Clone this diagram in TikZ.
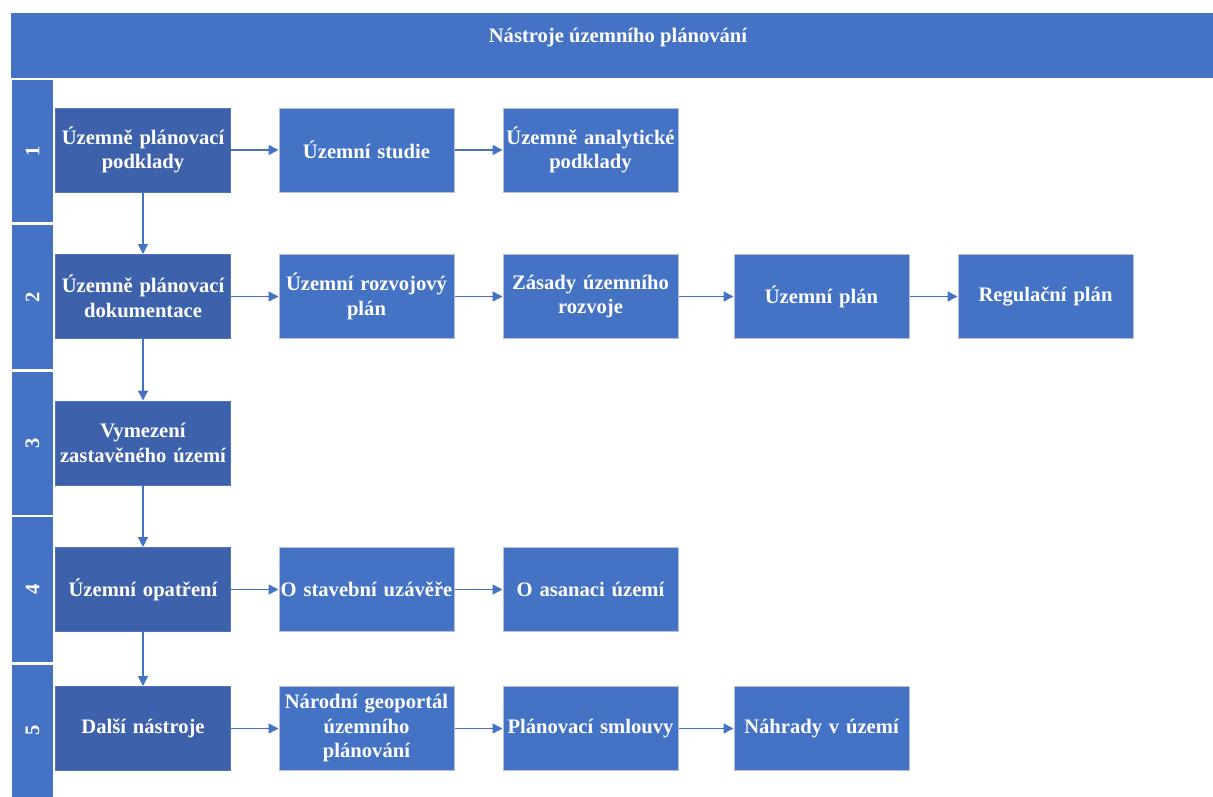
\documentclass[tikz,border=0pt]{standalone}
\usepackage{fontspec}
\setmainfont{Liberation Serif}
\usetikzlibrary{arrows.meta}
\definecolor{mblue}{HTML}{4472C4}
\definecolor{dblue}{HTML}{3D62AB}
\definecolor{dborder}{HTML}{5075BA}
\definecolor{lborder}{HTML}{B4C0D8}
\begin{document}
\begin{tikzpicture}[x=1pt,y=-1pt,
  txt/.style={text=white,font=\fontsize{20.6}{24.5}\selectfont\bfseries},
  lbox/.style={rectangle,fill=mblue,draw=lborder,line width=1pt,minimum width=175pt,minimum height=84pt,
    text width=174pt,align=center,inner sep=0pt,txt},
  dbox/.style={lbox,fill=dblue,draw=dborder},
  lane/.style={rectangle,fill=mblue,draw=white,line width=1.3pt,minimum width=42pt,inner sep=0pt},
  conn/.style={draw=mblue,line width=1.5pt,-{Triangle[length=10pt,width=10pt]}}]
\useasboundingbox (0,0) rectangle (1213,796);
% title
\fill[mblue] (11,13) rectangle (1213,78);
\node[txt] (title) at (618,38) {Nástroje územního plánování};
% lanes
\node[lane,minimum height=144pt] (l1) at (32.5,151) {};
\node[lane,minimum height=146pt] (l2) at (32.5,297) {};
\node[lane,minimum height=145pt] (l3) at (32.5,443.5) {};
\node[lane,minimum height=146pt] (l4) at (32.5,589.5) {};
\node[lane,minimum height=140pt] (l5) at (32.5,734) {};
\foreach \n/\y in {1/151,2/297,3/443.5,4/589.5,5/730}{
  \node[txt,rotate=90] (ln\n) at (32.5,\y) {\n};
}
% row 1
\node[dbox] (a1) at (143,150) {Územně plánovací\\podklady};
\node[lbox] (a2) at (366.5,150) {Územní studie};
\node[lbox] (a3) at (590.5,150) {Územně analytické\\podklady};
% row 2
\node[dbox] (b1) at (143,296.5) {Územně plánovací\\dokumentace};
\node[lbox] (b2) at (366.5,296.5) {Územní rozvojový\\plán};
\node[lbox] (b3) at (590.5,296.5) {Zásady územního\\rozvoje};
\node[lbox] (b4) at (821.5,296.5) {Územní plán};
\node[lbox] (b5) at (1045.5,296.5) {Regulační plán};
% row 3
\node[dbox] (c1) at (143,443) {Vymezení\\zastavěného území};
% row 4
\node[dbox] (d1) at (143,589.5) {Územní opatření};
\node[lbox] (d2) at (366.5,589.5) {O stavební uzávěře};
\node[lbox] (d3) at (590.5,589.5) {O asanaci území};
% row 5
\node[dbox] (e1) at (143,728.5) {Další nástroje};
\node[lbox] (e2) at (366.5,728.5) {Národní geoportál\\územního\\plánování};
\node[lbox] (e3) at (590.5,728.5) {Plánovací smlouvy};
\node[lbox] (e4) at (821.5,728.5) {Náhrady v území};
% connectors
\draw[conn] (a1) -- (a2);
\draw[conn] (a2) -- (a3);
\draw[conn] (b1) -- (b2);
\draw[conn] (b2) -- (b3);
\draw[conn] (b3) -- (b4);
\draw[conn] (b4) -- (b5);
\draw[conn] (d1) -- (d2);
\draw[conn] (d2) -- (d3);
\draw[conn] (e1) -- (e2);
\draw[conn] (e2) -- (e3);
\draw[conn] (e3) -- (e4);
\draw[conn] (a1) -- (b1);
\draw[conn] (b1) -- (c1);
\draw[conn] (c1) -- (d1);
\draw[conn] (d1) -- (e1);
\end{tikzpicture}
\end{document}
